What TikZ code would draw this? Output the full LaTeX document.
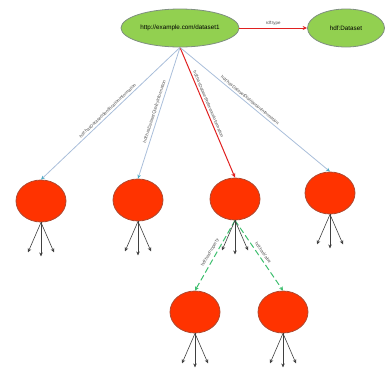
\documentclass[tikz,border=0pt]{standalone}
\usepackage{fontspec}
\setsansfont{Liberation Sans}
\usetikzlibrary{shapes.geometric,arrows.meta}
\definecolor{gfill}{HTML}{92D050}
\definecolor{gdraw}{HTML}{7F8F80}
\definecolor{rfill}{HTML}{FF3300}
\definecolor{rdraw}{HTML}{B0482F}
\definecolor{bline}{HTML}{A9BEDA}
\definecolor{btip}{HTML}{4BACC6}
\definecolor{gline}{HTML}{3DBE6E}
\definecolor{rline}{HTML}{E02020}
\definecolor{dline}{HTML}{404040}
\begin{document}
\begin{tikzpicture}[x=1pt,y=-1pt,
  gnode/.style={ellipse, fill=gfill, draw=gdraw, line width=0.8pt, inner sep=0pt,
    font=\fontsize{6.3}{7}\selectfont\sffamily},
  rnode/.style={ellipse, fill=rfill, draw=rdraw, line width=0.8pt, inner sep=0pt,
    minimum width=50pt, minimum height=42pt},
  elabel/.style={font=\fontsize{4.4}{5}\selectfont\sffamily, text=black!70, inner sep=0.5pt},
  bedge/.style={draw=bline, line width=0.8pt, -{Stealth[length=4pt,width=3.5pt,color=btip]}},
  redge/.style={draw=rline, line width=1pt, -{Stealth[length=4.5pt,width=4pt]}},
  gedge/.style={draw=gline, line width=1pt, dash pattern=on 6pt off 3pt, -{Stealth[length=4pt,width=4pt]}},
  dedge/.style={draw=dline, line width=0.6pt, -{Stealth[length=4pt,width=3.5pt]}}
]
\useasboundingbox (0,0) rectangle (388,373);

\node[gnode, minimum width=118pt, minimum height=38pt] (top) at (180,28) {http://example.com/dataset1};
\node[gnode, minimum width=77pt, minimum height=38pt] (ds) at (346,28) {hdf:Dataset};

\node[rnode] (c1) at (41,201) {};
\node[rnode] (c2) at (138,200) {};
\node[rnode] (c3) at (235,199) {};
\node[rnode] (c4) at (330,193) {};
\node[rnode] (c5) at (195,312) {};
\node[rnode] (c6) at (283,312) {};

\draw[redge] (top.east) -- node[elabel, above=2pt] {rdf:type} (ds.west);

\draw[bedge] (top.south) -- node[elabel, sloped, above=1.5pt, pos=0.5] {hdf:hasDatasetIdentificationInformation} (c1.north);
\draw[bedge] (top.south) -- node[elabel, sloped, above=1.5pt, pos=0.5] {hdf:hasDatasetQualityInformation} (c2.north);
\draw[redge] (top.south) -- node[elabel, sloped, above=1.5pt, pos=0.45] {hdf:hasDatasetReferenceInformation} (c3.north);
\draw[bedge] (top.south) -- node[elabel, sloped, above=1.5pt, pos=0.45] {hdf:hasDatasetDistributionInformation} (c4.north);

\draw[gedge] (c3.south) -- node[elabel, sloped, above=2.5pt] {hdf:hasProperty} (c5.north);
\draw[gedge] (c3.south) -- node[elabel, sloped, above=2.5pt] {hdf:hasValue} (c6.north);

\foreach \n in {c1,c2,c3,c4,c5,c6}{
  \coordinate (\n-l) at ([shift={(-13,30)}]\n.south);
  \coordinate (\n-m) at ([shift={(0,34)}]\n.south);
  \coordinate (\n-r) at ([shift={(13,30)}]\n.south);
  \draw[dedge] (\n.south) -- (\n-l);
  \draw[dedge] (\n.south) -- (\n-m);
  \draw[dedge] (\n.south) -- (\n-r);
}
\end{tikzpicture}
\end{document}
